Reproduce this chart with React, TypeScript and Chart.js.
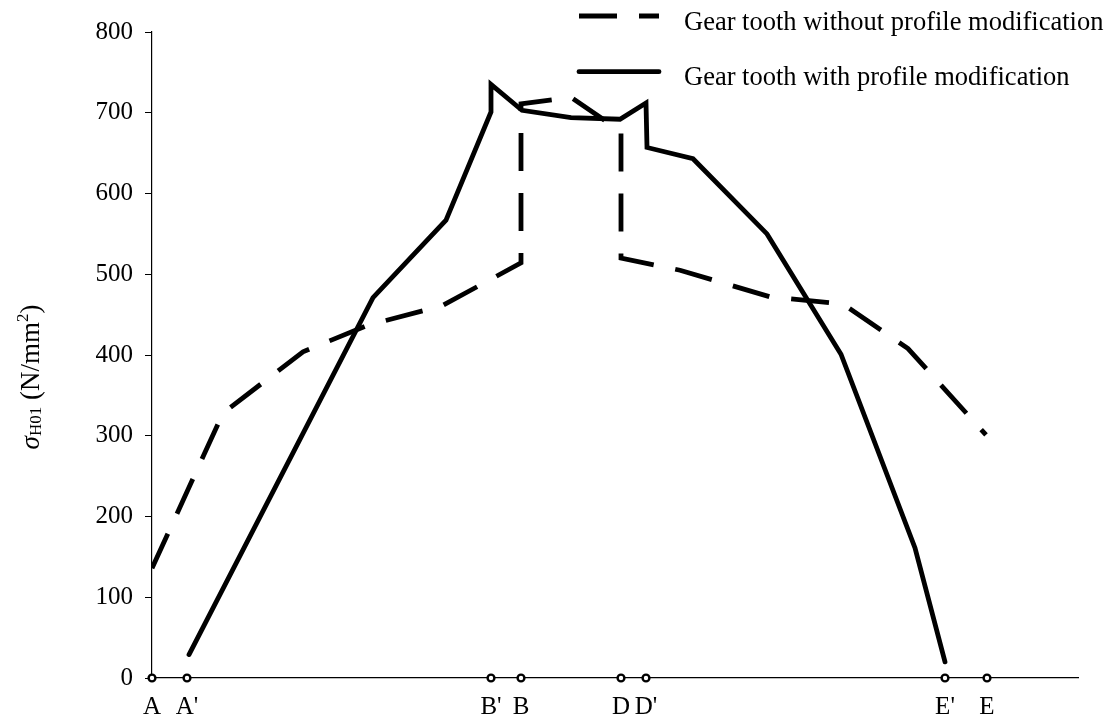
import React, { useEffect, useRef } from "react";
import { Chart, registerables } from "chart.js";

Chart.register(...registerables);

const FONT = "'Liberation Serif', 'Times New Roman', Times, serif";

// Positions along the path of contact (x axis) and their labels
const markerLabels = ["A", "A'", "B'", "B", "D", "D'", "E'", "E"];
const markerPositions = [0, 3.5, 33.9, 36.9, 46.9, 49.4, 79.3, 83.5];
const xAxisMax = 92.6;

// Y axis ticks (N/mm^2)
const yTicks = [0, 100, 200, 300, 400, 500, 600, 700, 800];

// Series: gear tooth without profile modification (dashed)
const withoutModLabel = "Gear tooth without profile modification";
const withoutModX = [0, 7.1, 15.1, 21.6, 29.0, 36.9, 36.9, 41.9, 46.9, 46.9, 52.8, 61.8, 69.1, 75.6, 83.4];
const withoutModY = [136, 328, 404, 437, 461, 514, 711, 719, 677, 520, 505, 472, 463, 408, 301];

// Series: gear tooth with profile modification (solid)
const withModLabel = "Gear tooth with profile modification";
const withModX = [3.7, 22.1, 29.4, 33.9, 33.9, 37.0, 41.9, 46.8, 49.4, 49.5, 54.1, 61.5, 68.9, 76.3, 79.3];
const withModY = [29, 471, 567, 701, 735, 703, 694, 692, 712, 657, 643, 550, 401, 161, 20];

const legendPlugin = {
  id: "customLegend",
  afterDraw(chart: any) {
    const ctx = chart.ctx;
    const items = chart.data.datasets.filter((d: any) => d.label);
    items.forEach((ds: any, i: number) => {
      const yLine = 16 + i * 55.7;
      ctx.save();
      ctx.strokeStyle = "#000";
      ctx.lineWidth = ds.borderWidth;
      ctx.setLineDash(ds.borderDash || []);
      ctx.lineCap = ds.borderCapStyle || "butt";
      ctx.beginPath();
      ctx.moveTo(579, yLine);
      ctx.lineTo(659, yLine);
      ctx.stroke();
      ctx.setLineDash([]);
      ctx.fillStyle = "#000";
      ctx.font = `26.5px ${FONT}`;
      ctx.textAlign = "left";
      ctx.textBaseline = "alphabetic";
      ctx.fillText(ds.label, 684, 30 + i * 55);
      ctx.restore();
    });
  },
};

const yTitlePlugin = {
  id: "yTitle",
  afterDraw(chart: any) {
    const ctx = chart.ctx;
    const parts = [
      { t: "σ", font: `italic 27px ${FONT}`, dy: 0 },
      { t: "H01", font: `17px ${FONT}`, dy: 2 },
      { t: " (N/mm", font: `27px ${FONT}`, dy: 0 },
      { t: "2", font: `17px ${FONT}`, dy: -11 },
      { t: ")", font: `27px ${FONT}`, dy: 0 },
    ];
    ctx.save();
    ctx.translate(39, 377);
    ctx.rotate(-Math.PI / 2);
    ctx.fillStyle = "#000";
    ctx.textBaseline = "alphabetic";
    ctx.textAlign = "left";
    let total = 0;
    const widths = parts.map((p) => {
      ctx.font = p.font;
      const w = ctx.measureText(p.t).width;
      total += w;
      return w;
    });
    let x = -total / 2;
    parts.forEach((p, i) => {
      ctx.font = p.font;
      ctx.fillText(p.t, x, p.dy);
      x += widths[i];
    });
    ctx.restore();
  },
};

export default function App() {
  const canvasRef = useRef<HTMLCanvasElement | null>(null);

  useEffect(() => {
    if (!canvasRef.current) return;
    Chart.defaults.font.family = FONT;
    Chart.defaults.color = "#000";

    const chart = new Chart(canvasRef.current, {
      type: "line",
      data: {
        datasets: [
          {
            label: withoutModLabel,
            data: withoutModX.map((x, i) => ({ x, y: withoutModY[i] })),
            borderColor: "#000",
            borderWidth: 4.8,
            borderDash: [38, 22],
            borderCapStyle: "butt",
            borderJoinStyle: "miter",
            pointRadius: 0,
            fill: false,
            tension: 0,
          },
          {
            label: withModLabel,
            data: withModX.map((x, i) => ({ x, y: withModY[i] })),
            borderColor: "#000",
            borderWidth: 4.8,
            borderCapStyle: "round",
            borderJoinStyle: "miter",
            pointRadius: 0,
            fill: false,
            tension: 0,
          },
          {
            data: markerPositions.map((x) => ({ x, y: 0 })),
            showLine: false,
            pointRadius: 3.4,
            pointBorderWidth: 2.4,
            pointBackgroundColor: "#fff",
            pointBorderColor: "#000",
            clip: false,
            order: -1,
          } as any,
        ],
      },
      options: {
        responsive: false,
        animation: false,
        devicePixelRatio: 1,
        layout: { padding: { top: 32, right: 36, left: 0, bottom: 0 } },
        plugins: {
          legend: { display: false },
          tooltip: { enabled: false },
          title: { display: false },
        },
        scales: {
          x: {
            type: "linear",
            min: 0,
            max: xAxisMax,
            afterBuildTicks: (scale: any) => {
              scale.ticks = markerPositions.map((v) => ({ value: v }));
            },
            afterFit: (scale: any) => {
              scale.height = 45;
            },
            grid: { display: false, drawTicks: false },
            border: { display: true, color: "#000", width: 1.2 },
            ticks: {
              autoSkip: false,
              maxRotation: 0,
              padding: 14,
              font: { size: 25, family: FONT },
              color: "#000",
              callback: (_v: any, index: number) => markerLabels[index],
            },
          },
          y: {
            type: "linear",
            min: 0,
            max: 800,
            afterBuildTicks: (scale: any) => {
              scale.ticks = yTicks.map((v) => ({ value: v }));
            },
            afterFit: (scale: any) => {
              scale.width = 152;
            },
            grid: {
              display: true,
              drawOnChartArea: false,
              drawTicks: true,
              tickLength: 7,
              color: "#000",
              lineWidth: 1,
            },
            border: { display: true, color: "#000", width: 1.2 },
            ticks: {
              padding: 12,
              font: { size: 25, family: FONT },
              color: "#000",
              callback: (v: any) => String(v),
            },
          },
        },
      },
      plugins: [legendPlugin, yTitlePlugin],
    } as any);

    return () => chart.destroy();
  }, []);

  return (
    <div
      style={{
        position: "fixed",
        left: 0,
        top: 0,
        width: 1114,
        height: 723,
        background: "#fff",
      }}
    >
      <canvas ref={canvasRef} width={1114} height={723} />
    </div>
  );
}
